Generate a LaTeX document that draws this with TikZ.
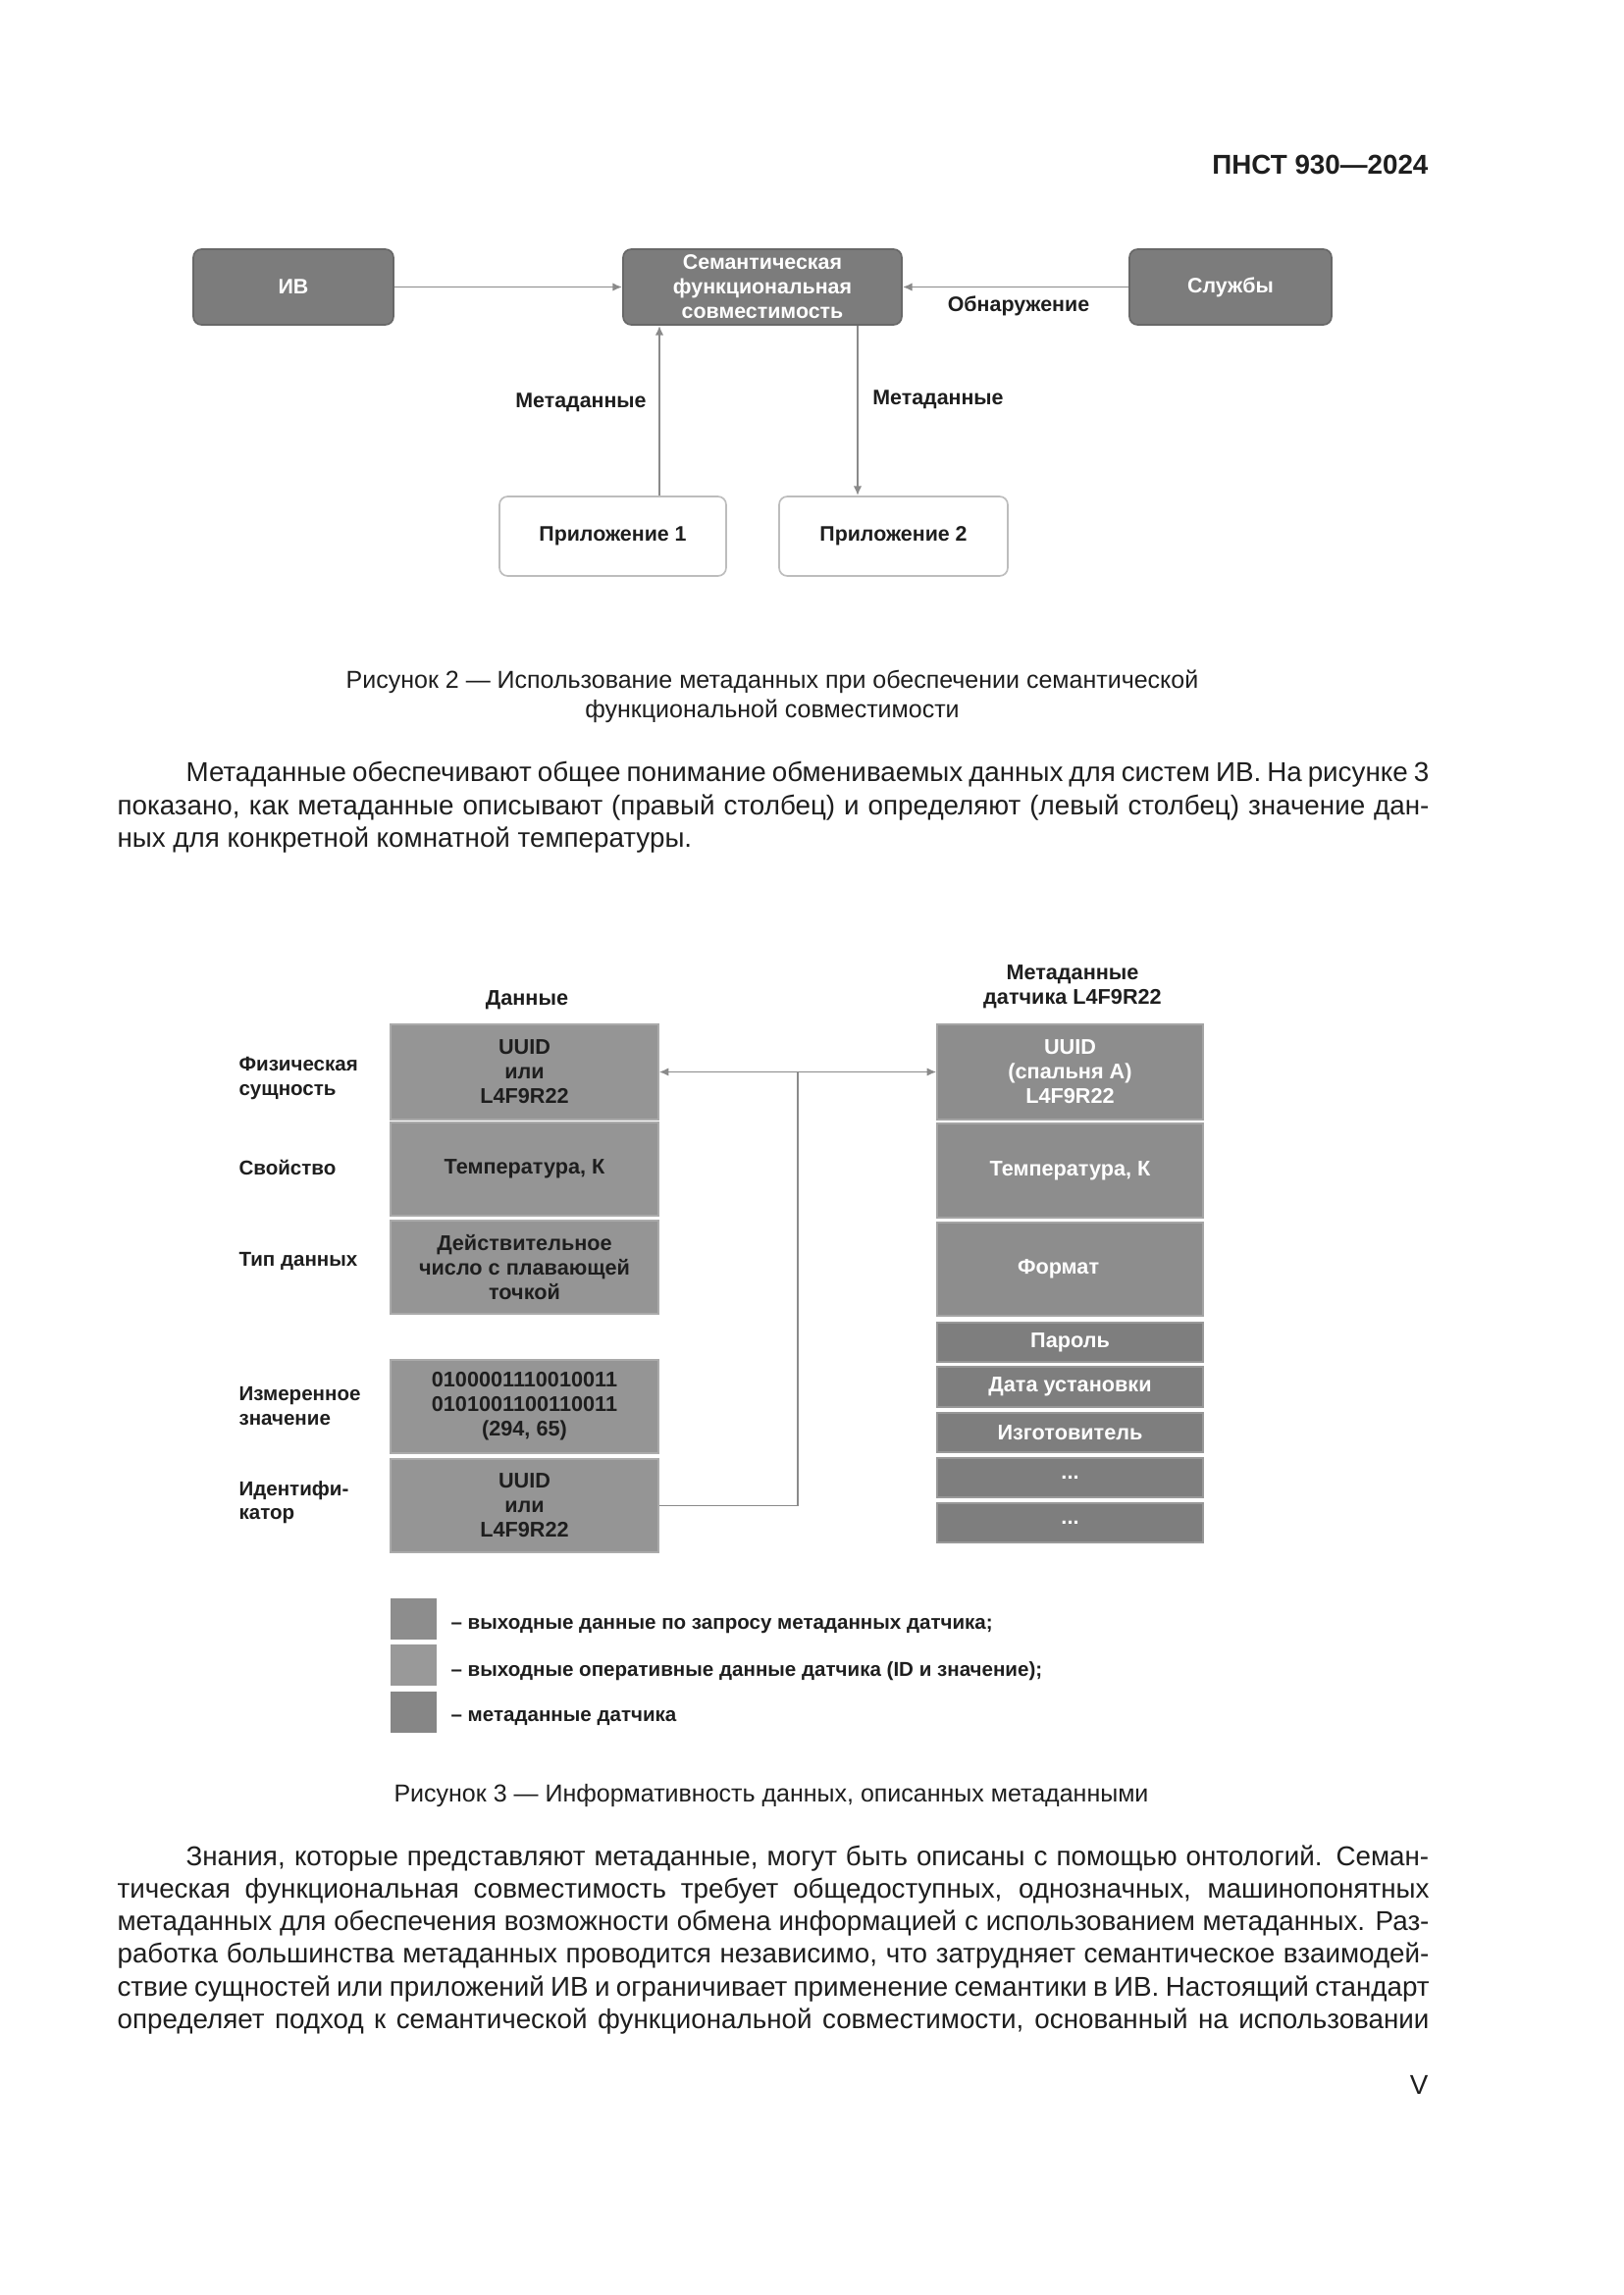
\documentclass[tikz,border=0pt]{standalone}
\usepackage{fontspec}
\setmainfont{Liberation Sans}
\usetikzlibrary{arrows.meta,positioning}

\definecolor{boxgray}{HTML}{7C7C7C}
\definecolor{boxedge}{HTML}{686868}
\definecolor{appedge}{HTML}{BDBDBD}
\definecolor{linegray}{HTML}{8A8A8A}
\definecolor{datagray}{HTML}{959595}
\definecolor{metagray}{HTML}{8D8D8D}
\definecolor{lowgray}{HTML}{7E7E7E}
\definecolor{leggray}{HTML}{999999}
\definecolor{darktext}{HTML}{1E1E1E}

\newcommand\bodyfont{\fontsize{10}{12}\selectfont}
\newcommand\capfont{\fontsize{9}{11}\selectfont}
\newcommand\figfont{\fontsize{7.7}{9}\selectfont\bfseries}
\newcommand\cellfont{\fontsize{7.8}{9}\selectfont\bfseries}
\newcommand\sidefont{\fontsize{7.4}{8.8}\selectfont\bfseries}

\tikzset{
  size/.style 2 args={minimum width=#1*0.36pt, minimum height=#2*0.36pt},
  darkbox/.style={draw=boxedge, line width=0.6pt, fill=boxgray, rounded corners=3pt,
    text=white, font=\figfont, align=center, inner sep=0pt},
  appbox/.style={draw=appedge, line width=0.6pt, fill=white, rounded corners=3pt,
    text=darktext, font=\figfont, inner sep=0pt},
  lbl/.style={font=\figfont, text=darktext, inner sep=0pt},
  arr/.style={draw=linegray, line width=0.7pt, -{Latex[length=3.5pt,width=3pt]}},
  conn/.style={draw=linegray, line width=0.7pt},
  datacell/.style={fill=datagray, draw=datagray!80!white, line width=0.4pt,
    text=darktext, font=\cellfont, align=center, inner sep=0pt},
  metacell/.style={fill=metagray, draw=metagray!80!white, line width=0.4pt,
    text=white, font=\cellfont, align=center, inner sep=0pt},
  lowcell/.style={fill=lowgray, draw=lowgray!80!white, line width=0.4pt,
    text=white, font=\cellfont, align=center, inner sep=0pt},
  rowlbl/.style={anchor=west, font=\sidefont, text=darktext, align=left, inner sep=0pt},
  legsq/.style={size={47}{42}, inner sep=0pt},
  legtxt/.style={anchor=west, font=\sidefont, text=darktext, inner sep=0pt},
  body/.style={anchor=base west, font=\bodyfont, text=darktext, inner sep=0pt},
  caption/.style={anchor=base, font=\capfont, text=darktext, inner sep=0pt}
}

\begin{document}
\begin{tikzpicture}[x=0.36pt, y=-0.36pt]
  \fill[white] (0,0) rectangle (1654,2339);
  \useasboundingbox (0,0) rectangle (1654,2339);

  % page header
  \node[anchor=base east, font=\fontsize{10}{12}\selectfont\bfseries, text=darktext, inner sep=0pt]
    (hdr) at (1456,177) {ПНСТ 930—2024};

  % Figure 2
  \node[darkbox, size={204}{77}] (iv) at (299,292.5) {ИВ};
  \node[darkbox, size={284}{77}] (sem) at (777,292.5) {Семантическая\\функциональная\\совместимость};
  \node[darkbox, size={206}{77}] (sl) at (1254,292.5) {Службы};
  \node[appbox, size={231}{81}] (app1) at (624.5,546.5) {Приложение 1};
  \node[appbox, size={233}{81}] (app2) at (910.5,546.5) {Приложение 2};

  \coordinate (upx) at (672,0);
  \coordinate (dnx) at (874,0);
  \draw[arr] (iv) -- (sem);
  \draw[arr] (sl) -- (sem);
  \draw[arr] (app1.north -| upx) -- (sem.south -| upx);
  \draw[arr] (sem.south -| dnx) -- (app2.north -| dnx);

  \node[lbl] (obn) at (1038,312) {Обнаружение};
  \node[lbl] (mdl) at (592,410) {Метаданные};
  \node[lbl] (mdr) at (956,407) {Метаданные};

  \node[caption] (cap2a) at (787,701)
    {Рисунок 2 — Использование метаданных при обеспечении семантической};
  \node[caption] (cap2b) at (787,731) {функциональной совместимости};

  % paragraph 1
  \node[body] (p1a) at (189,796) {\makebox[456pt][s]{Метаданные обеспечивают общее понимание обмениваемых данных для систем ИВ. На рисунке 3}};
  \node[body] (p1b) at (119,830) {\makebox[481.3pt][s]{показано, как метаданные описывают (правый столбец) и определяют (левый столбец) значение дан-}};
  \node[body] (p1c) at (119,863) {ных для конкретной комнатной температуры.};

  % Figure 3: column heads
  \node[lbl, font=\cellfont] (hdata) at (537,1019) {Данные};
  \node[lbl, font=\cellfont, align=center] (hmeta) at (1093,1006) {Метаданные\\датчика L4F9R22};

  % data column
  \node[datacell, size={273}{97}] (d1) at (534.5,1092.5) {UUID\\или\\L4F9R22};
  \node[datacell, size={273}{95}] (d2) at (534.5,1191.5) {Температура, К};
  \node[datacell, size={273}{95}] (d3) at (534.5,1291.5) {Действительное\\число с плавающей\\точкой};
  \node[datacell, size={273}{95}] (d4) at (534.5,1433.5) {0100001110010011\\0101001100110011\\(294, 65)};
  \node[datacell, size={273}{95}] (d5) at (534.5,1534.5) {UUID\\или\\L4F9R22};

  % metadata column
  \node[metacell, size={271}{97}] (m1) at (1090.5,1092.5) {UUID\\(спальня А)\\L4F9R22};
  \node[metacell, size={271}{96}] (m2) at (1090.5,1193) {Температура, К};
  \node[metacell, size={271}{95}] (m3) at (1090.5,1293.5) {Формат\hspace*{8.6pt}};
  \node[lowcell, size={271}{40}] (m4) at (1090.5,1368) {Пароль};
  \node[lowcell, size={271}{41}] (m5) at (1090.5,1413.5) {Дата установки};
  \node[lowcell, size={271}{40}] (m6) at (1090.5,1460) {Изготовитель};
  \node[lowcell, size={271}{40}] (m7) at (1090.5,1506) {...};
  \node[lowcell, size={271}{40}] (m8) at (1090.5,1552) {...};

  % row labels
  \node[rowlbl] (r1) at (243,1099) {Физическая\\сущность};
  \node[rowlbl] (r2) at (243,1190) {Свойство};
  \node[rowlbl] (r3) at (243,1285) {Тип данных};
  \node[rowlbl] (r4) at (243,1433) {Измеренное\\значение};
  \node[rowlbl] (r5) at (243,1531) {Идентифи-\\катор};

  % link between the columns
  \coordinate (jn) at (813,1092.5);
  \draw[conn] (d5.east) -| (jn);
  \draw[arr] (jn) -- (d1.east);
  \draw[arr] (jn) -- (m1.west);

  % legend
  \node[legsq, fill=metagray] (lg1) at (421.5,1649.5) {};
  \node[legsq, fill=leggray] (lg2) at (421.5,1697) {};
  \node[legsq, fill=metagray!95!black] (lg3) at (421.5,1745) {};
  \node[legtxt] (lt1) at (459,1657) {– выходные данные по запросу метаданных датчика;};
  \node[legtxt] (lt2) at (459,1703) {– выходные оперативные данные датчика (ID и значение);};
  \node[legtxt] (lt3) at (459,1751) {– метаданные датчика};

  \node[caption] (cap3) at (786,1836)
    {Рисунок 3 — Информативность данных, описанных метаданными};

  % paragraph 2
  \node[body] (p2a) at (189,1901) {\makebox[456pt][s]{Знания, которые представляют метаданные, могут быть описаны с помощью онтологий. Семан-}};
  \node[body] (p2b) at (119,1934) {\makebox[481.3pt][s]{тическая функциональная совместимость требует общедоступных, однозначных, машинопонятных}};
  \node[body] (p2c) at (119,1967) {\makebox[481.3pt][s]{метаданных для обеспечения возможности обмена информацией с использованием метаданных. Раз-}};
  \node[body] (p2d) at (119,2000) {\makebox[481.3pt][s]{работка большинства метаданных проводится независимо, что затрудняет семантическое взаимодей-}};
  \node[body] (p2e) at (119,2034) {\makebox[481.3pt][s]{ствие сущностей или приложений ИВ и ограничивает применение семантики в ИВ. Настоящий стандарт}};
  \node[body] (p2f) at (119,2067) {\makebox[481.3pt][s]{определяет подход к семантической функциональной совместимости, основанный на использовании}};

  \node[anchor=base east, font=\bodyfont, text=darktext, inner sep=0pt] (pg) at (1456,2134) {V};
\end{tikzpicture}
\end{document}
